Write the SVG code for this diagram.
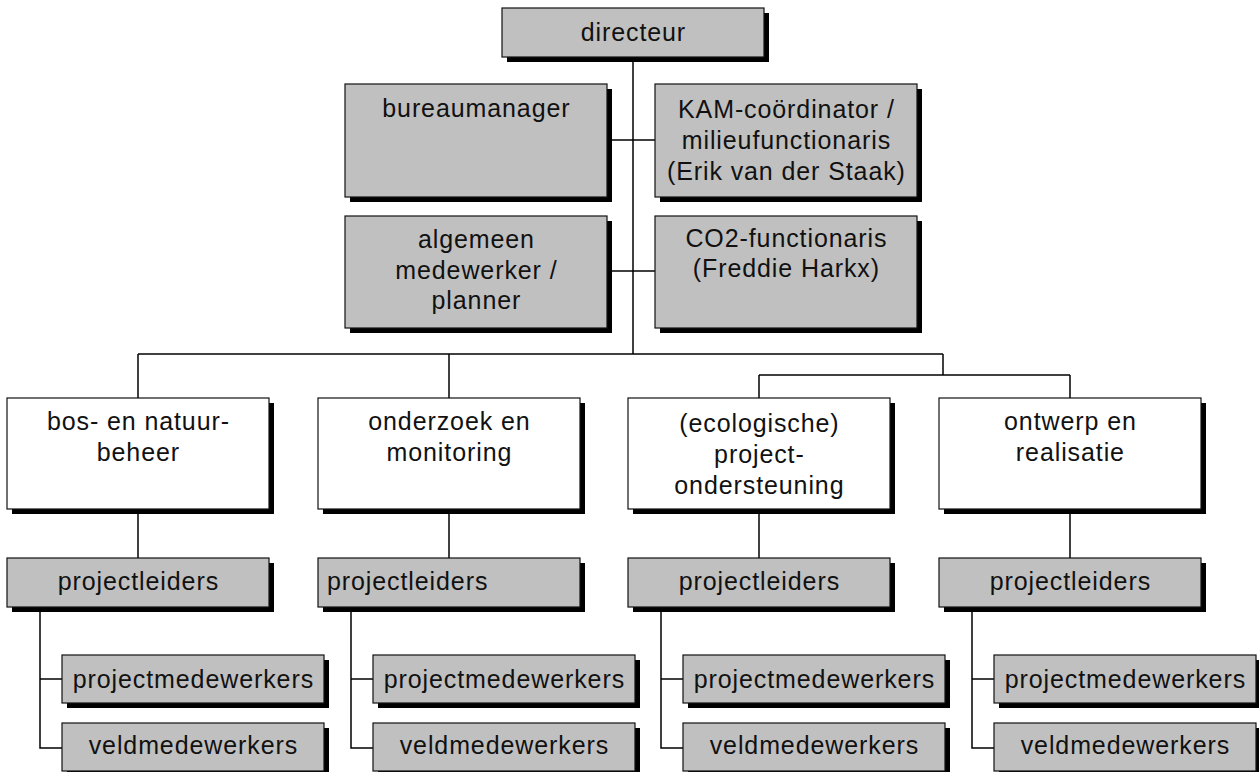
<svg xmlns="http://www.w3.org/2000/svg" width="1259" height="772" viewBox="0 0 1259 772">
<style>
.box{stroke:#111;stroke-width:1.2}
.g{fill:#c0c0c0}
.w{fill:#ffffff}
.sh{fill:#000}
text{font-family:"Liberation Sans",Arial,sans-serif;font-size:25px;letter-spacing:0.9px;fill:#111;text-anchor:middle}
text.l{text-anchor:start}
#connectors line, #connectors polyline{stroke:#000;stroke-width:1.5;fill:none}
</style>
<rect width="1259" height="772" fill="#fff"/>
<g id="connectors">
<line x1="633" y1="57" x2="633" y2="354"/>
<line x1="607" y1="140" x2="655" y2="140"/>
<line x1="607" y1="271" x2="655" y2="271"/>
<line x1="138" y1="354" x2="943" y2="354"/>
<line x1="138" y1="354" x2="138" y2="398"/>
<line x1="449" y1="354" x2="449" y2="398"/>
<line x1="943" y1="354" x2="943" y2="375"/>
<line x1="759" y1="375" x2="1070" y2="375"/>
<line x1="759" y1="375" x2="759" y2="398"/>
<line x1="1070" y1="375" x2="1070" y2="398"/>
<line x1="138" y1="509" x2="138" y2="558"/>
<line x1="449" y1="509" x2="449" y2="558"/>
<line x1="759" y1="509" x2="759" y2="558"/>
<line x1="1070" y1="509" x2="1070" y2="558"/>
<polyline points="40,607 40,748 62,748"/>
<line x1="40" y1="679" x2="62" y2="679"/>
<polyline points="351,607 351,748 373,748"/>
<line x1="351" y1="679" x2="373" y2="679"/>
<polyline points="661,607 661,748 683,748"/>
<line x1="661" y1="679" x2="683" y2="679"/>
<polyline points="972,607 972,748 994,748"/>
<line x1="972" y1="679" x2="994" y2="679"/>
</g>
<g id="directeur">
<rect class="sh" x="507" y="13" width="262" height="49"/>
<rect class="box g" x="502" y="8" width="262" height="49"/>
<text x="633.4" y="41">directeur</text>
</g>
<g id="bureaumanager">
<rect class="sh" x="350" y="89" width="262" height="113"/>
<rect class="box g" x="345" y="84" width="262" height="113"/>
<text x="476.4" y="117">bureaumanager</text>
</g>
<g id="kam">
<rect class="sh" x="660" y="89" width="262" height="113"/>
<rect class="box g" x="655" y="84" width="262" height="113"/>
<text x="786.4" y="118">KAM-coördinator /</text>
<text x="786.4" y="149">milieufunctionaris</text>
<text x="786.4" y="180">(Erik van der Staak)</text>
</g>
<g id="algemeen">
<rect class="sh" x="350" y="221" width="262" height="112"/>
<rect class="box g" x="345" y="216" width="262" height="112"/>
<text x="476.4" y="248">algemeen</text>
<text x="476.4" y="279">medewerker /</text>
<text x="476.4" y="309">planner</text>
</g>
<g id="co2">
<rect class="sh" x="660" y="221" width="262" height="112"/>
<rect class="box g" x="655" y="216" width="262" height="112"/>
<text x="786.4" y="247">CO2-functionaris</text>
<text x="786.4" y="277">(Freddie Harkx)</text>
</g>
<g id="bos">
<rect class="sh" x="12" y="403" width="262" height="111"/>
<rect class="box w" x="7" y="398" width="262" height="111"/>
<text x="138.4" y="430">bos- en natuur-</text>
<text x="138.4" y="461">beheer</text>
</g>
<g id="onderzoek">
<rect class="sh" x="323" y="403" width="262" height="111"/>
<rect class="box w" x="318" y="398" width="262" height="111"/>
<text x="449.4" y="430">onderzoek en</text>
<text x="449.4" y="461">monitoring</text>
</g>
<g id="ecologische">
<rect class="sh" x="633" y="403" width="262" height="111"/>
<rect class="box w" x="628" y="398" width="262" height="111"/>
<text x="759.4" y="432">(ecologische)</text>
<text x="759.4" y="463">project-</text>
<text x="759.4" y="494">ondersteuning</text>
</g>
<g id="ontwerp">
<rect class="sh" x="944" y="403" width="262" height="111"/>
<rect class="box w" x="939" y="398" width="262" height="111"/>
<text x="1070.4" y="430">ontwerp en</text>
<text x="1070.4" y="461">realisatie</text>
</g>
<g id="pl1">
<rect class="sh" x="12" y="563" width="262" height="49"/>
<rect class="box g" x="7" y="558" width="262" height="49"/>
<text x="138.4" y="590">projectleiders</text>
</g>
<g id="pl2">
<rect class="sh" x="323" y="563" width="262" height="49"/>
<rect class="box g" x="318" y="558" width="262" height="49"/>
<text class="l" x="327" y="590">projectleiders</text>
</g>
<g id="pl3">
<rect class="sh" x="633" y="563" width="262" height="49"/>
<rect class="box g" x="628" y="558" width="262" height="49"/>
<text x="759.4" y="590">projectleiders</text>
</g>
<g id="pl4">
<rect class="sh" x="944" y="563" width="262" height="49"/>
<rect class="box g" x="939" y="558" width="262" height="49"/>
<text x="1070.4" y="590">projectleiders</text>
</g>
<g id="pm1">
<rect class="sh" x="67" y="660" width="262" height="48"/>
<rect class="box g" x="62" y="655" width="262" height="48"/>
<text x="193.4" y="688">projectmedewerkers</text>
</g>
<g id="pm2">
<rect class="sh" x="378" y="660" width="262" height="48"/>
<rect class="box g" x="373" y="655" width="262" height="48"/>
<text x="504.4" y="688">projectmedewerkers</text>
</g>
<g id="pm3">
<rect class="sh" x="688" y="660" width="262" height="48"/>
<rect class="box g" x="683" y="655" width="262" height="48"/>
<text x="814.4" y="688">projectmedewerkers</text>
</g>
<g id="pm4">
<rect class="sh" x="999" y="660" width="262" height="48"/>
<rect class="box g" x="994" y="655" width="262" height="48"/>
<text x="1125.4" y="688">projectmedewerkers</text>
</g>
<g id="vm1">
<rect class="sh" x="67" y="728" width="262" height="48"/>
<rect class="box g" x="62" y="723" width="262" height="48"/>
<text x="193.4" y="754">veldmedewerkers</text>
</g>
<g id="vm2">
<rect class="sh" x="378" y="728" width="262" height="48"/>
<rect class="box g" x="373" y="723" width="262" height="48"/>
<text x="504.4" y="754">veldmedewerkers</text>
</g>
<g id="vm3">
<rect class="sh" x="688" y="728" width="262" height="48"/>
<rect class="box g" x="683" y="723" width="262" height="48"/>
<text x="814.4" y="754">veldmedewerkers</text>
</g>
<g id="vm4">
<rect class="sh" x="999" y="728" width="262" height="48"/>
<rect class="box g" x="994" y="723" width="262" height="48"/>
<text x="1125.4" y="754">veldmedewerkers</text>
</g>
</svg>
